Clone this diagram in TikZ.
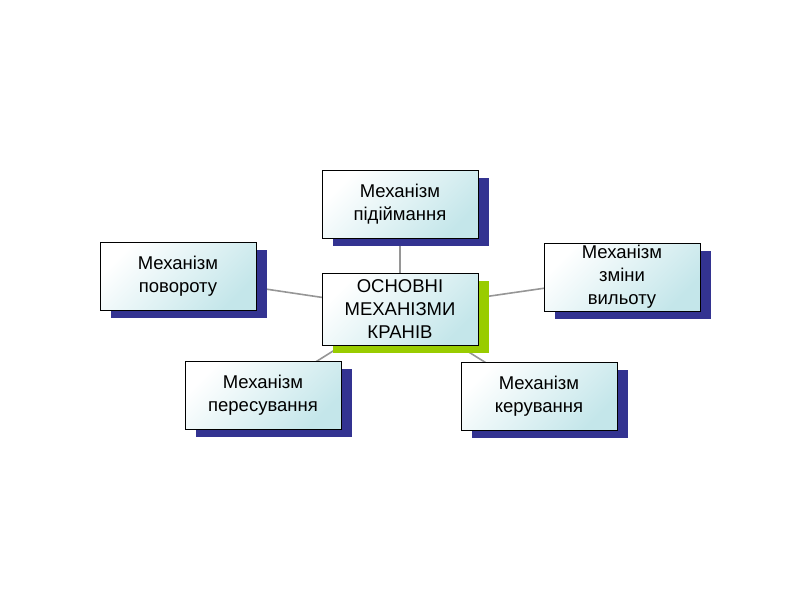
\documentclass[tikz,border=0pt]{standalone}
\usepackage{fontspec}
\setmainfont{Liberation Sans}
\usetikzlibrary{shadows,backgrounds}
\definecolor{shadowblue}{RGB}{51,51,145}
\definecolor{shadowgreen}{RGB}{153,204,0}
\definecolor{boxcyan}{RGB}{196,230,234}
\definecolor{linegray}{RGB}{150,150,150}
\begin{document}
\begin{tikzpicture}[x=1pt, y=-1pt,
                    mbox/.style = {shape = rectangle,
                                   draw = black,
                                   line width = 0.8pt,
                                   inner sep = 0pt,
                                   minimum width = 156pt,
                                   minimum height = 68pt,
                                   align = center,
                                   font = \fontsize{18.5}{23}\selectfont,
                                   left color = white,
                                   right color = boxcyan,
                                   shading angle = 45,
                                   drop shadow = {shadow xshift = 11pt,
                                                  shadow yshift = -8pt,
                                                  fill = shadowblue,
                                                  opacity = 1}},
                    mcenter/.style = {mbox,
                                      minimum height = 72pt,
                                      drop shadow = {shadow xshift = 11pt,
                                                     shadow yshift = -8pt,
                                                     fill = shadowgreen,
                                                     opacity = 1}},
                    mlink/.style = {draw = linegray, line width = 1.6pt}]
	\useasboundingbox (0,0) rectangle (800,600);
		\node[mbox] (lift) at (400,204) {Механізм\\підіймання};
		\node[mbox] (turn) at (178,276) {Механізм\\повороту};
		\node[mbox] (reach) at (622,277) {Механізм\\зміни\\вильоту};
		\node[mcenter] (main) at (400,309) {ОСНОВНІ\\МЕХАНІЗМИ\\КРАНІВ};
		\node[mbox] (travel) at (263,395) {Механізм\\пересування};
		\node[mbox] (control) at (539,396) {Механізм\\керування};
		\begin{scope}[on background layer]
			\draw[mlink] (main.center) -- (lift.center);
			\draw[mlink] (main.center) -- (turn.center);
			\draw[mlink] (main.center) -- (reach.center);
			\draw[mlink] (main.center) -- (travel.center);
			\draw[mlink] (main.center) -- (control.center);
		\end{scope}
	\end{tikzpicture}
\end{document}
